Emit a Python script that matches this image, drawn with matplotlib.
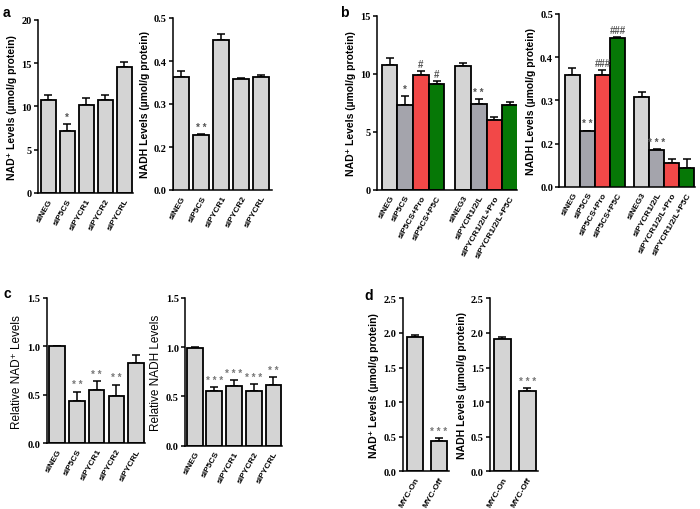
import matplotlib
matplotlib.use('Agg')
import matplotlib.pyplot as plt
import numpy as np

# ---- data ----
a_labels = ['siNEG', 'siP5CS', 'siPYCR1', 'siPYCR2', 'siPYCRL']
a_nad = [10.7, 7.2, 10.2, 10.7, 14.55]
a_nad_err = [0.57, 0.76, 0.76, 0.57, 0.6]
a_nad_sig = ['', '*', '', '', '']
a_nadh = [0.362, 0.228, 0.450, 0.358, 0.362]
a_nadh_err = [0.015, 0.002, 0.013, 0.003, 0.005]
a_nadh_sig = ['', '* *', '', '', '']

b_labels = ['siNEG', 'siP5CS', 'siP5CS+Pro', 'siP5CS+P5C',
            'siNEG3', 'siPYCR1/2/L', 'siPYCR1/2/L+Pro', 'siPYCR1/2/L+P5C']
b_nad = [10.72, 7.27, 9.86, 9.14, 10.63, 7.36, 6.03, 7.27]
b_nad_err = [0.63, 0.78, 0.34, 0.2, 0.32, 0.49, 0.23, 0.33]
b_nad_sig = ['', '*', '#', '#', '', '* *', '', '']
b_nadh = [0.359, 0.228, 0.358, 0.444, 0.308, 0.185, 0.154, 0.143]
b_nadh_err = [0.015, 0.002, 0.013, 0.002, 0.011, 0.002, 0.009, 0.02]
b_nadh_sig = ['', '* *', '###', '###', '', '* * *', '', '']

c_labels = ['siNEG', 'siP5CS', 'siPYCR1', 'siPYCR2', 'siPYCRL']
c_nad = [1.0, 0.44, 0.55, 0.487, 0.828]
c_nad_err = [0.007, 0.094, 0.09, 0.12, 0.079]
c_nad_sig = ['', '* *', '* *', '* *', '']
c_nadh = [0.997, 0.557, 0.611, 0.557, 0.618]
c_nadh_err = [0.008, 0.037, 0.058, 0.068, 0.082]
c_nadh_sig = ['', '* * *', '* * *', '* * *', '* *']

d_labels = ['MYC-On', 'MYC-Off']
d_nad = [1.937, 0.443]
d_nad_err = [0.039, 0.034]
d_nad_sig = ['', '* * *']
d_nadh = [1.913, 1.159]
d_nadh_err = [0.024, 0.048]
d_nadh_sig = ['', '* * *']

# NADH axes in a/b: bottom tick sits at 0.1 but is labelled 0.0
nadh_ticks = [0.1, 0.2, 0.3, 0.4, 0.5]
nadh_ticklabels = ['0.0', '0.2', '0.3', '0.4', '0.5']

GREY = '#d4d4d4'
DGREY = '#a4a4ac'
RED = '#f24848'
GREEN = '#067806'
b_colors = [GREY, DGREY, RED, GREEN, GREY, DGREY, RED, GREEN]

sans = ['Liberation Sans', 'DejaVu Sans']
serif = ['Liberation Serif', 'DejaVu Serif']

W, H = 700, 510
fig = plt.figure(figsize=(7, 5.1), dpi=100)


def px_axes(l, t, r, b):
    return fig.add_axes([l / W, 1 - b / H, (r - l) / W, (b - t) / H])


def panel(rect, pos, vals, errs, sigs, labels, colors, width, xlim, ylim,
          yticks, yticklabels, ylabel, yl_bold=True, yl_size=7.5, sig_col='#555555'):
    ax = px_axes(*rect)
    ax.bar(pos, vals, width=width, color=colors, edgecolor='black',
           linewidth=1.3, zorder=2)
    ax.errorbar(pos, vals, yerr=[np.zeros(len(vals)), errs], fmt='none',
                ecolor='black', elinewidth=1.1, capsize=3.2, capthick=1.1, zorder=1)
    for x, v, e, s in zip(pos, vals, errs, sigs):
        if s:
            ax.annotate(s, (x, v + e), xytext=(0, 1.5), textcoords='offset points',
                        ha='center', va='bottom', fontsize=7, color=sig_col,
                        family=sans, fontweight='bold')
    ax.set_xlim(*xlim)
    ax.set_ylim(*ylim)
    ax.set_yticks(yticks)
    ax.set_yticklabels(yticklabels, family=serif, fontweight='bold', fontsize=7.5)
    ax.set_xticks(pos)
    ax.set_xticklabels(labels, rotation=60, ha='right', rotation_mode='anchor',
                       family=sans, fontweight='bold', fontsize=6)
    ax.tick_params(axis='x', length=0, pad=3)
    ax.tick_params(axis='y', length=3, width=1.1, pad=1.5)
    for s in ['top', 'right']:
        ax.spines[s].set_visible(False)
    for s in ['left', 'bottom']:
        ax.spines[s].set_linewidth(1.1)
    ax.set_ylabel(ylabel, family=sans, fontweight='bold' if yl_bold else 'normal',
                  fontsize=yl_size, labelpad=3)
    return ax


five = np.arange(5)
two = np.arange(2)
b_pos1 = np.array([0, 1, 2, 3, 4.68, 5.68, 6.68, 7.68])
b_pos2 = np.array([0, 1, 2, 3, 4.62, 5.62, 6.62, 7.62])

nad_lab = 'NAD\u207a Levels (\u00b5mol/g protein)'
nadh_lab = 'NADH Levels (\u00b5mol/g protein)'

# panel a
panel((38, 20.7, 133, 194), five, a_nad, a_nad_err, a_nad_sig, a_labels, GREY,
      0.79, (-0.535, 4.465), (0, 20), [0, 5, 10, 15, 20],
      ['0', '5', '10', '15', '20'], nad_lab)
panel((173, 19, 271.7, 191), five, a_nadh, a_nadh_err, a_nadh_sig, a_labels, GREY,
      0.8, (-0.42, 4.51), (0.1, 0.5), nadh_ticks, nadh_ticklabels, nadh_lab)

# panel b
panel((376.7, 16.7, 517, 190.7), b_pos1, b_nad, b_nad_err, b_nad_sig, b_labels,
      b_colors, 1.0, (-0.82, 8.12), (0, 15), [0, 5, 10, 15],
      ['0', '5', '10', '15'], nad_lab)
panel((559.3, 15, 695, 187.7), b_pos2, b_nadh, b_nadh_err, b_nadh_sig, b_labels,
      b_colors, 1.0, (-0.88, 8.17), (0.1, 0.5), nadh_ticks, nadh_ticklabels, nadh_lab)

# panel c
panel((46.7, 299, 145, 444.3), five, c_nad, c_nad_err, c_nad_sig, c_labels, GREY,
      0.78, (-0.53, 4.46), (0, 1.5), [0, 0.5, 1.0, 1.5],
      ['0.0', '0.5', '1.0', '1.5'], 'Relative NAD\u207a Levels',
      yl_bold=False, yl_size=8.5, sig_col='#777777')
panel((185, 299, 282.3, 446.7), five, c_nadh, c_nadh_err, c_nadh_sig, c_labels, GREY,
      0.8, (-0.49, 4.45), (0, 1.5), [0, 0.5, 1.0, 1.5],
      ['0.0', '0.5', '1.0', '1.5'], 'Relative NADH Levels',
      yl_bold=False, yl_size=8.5, sig_col='#777777')

# panel d
d_ticks = [0, 0.5, 1.0, 1.5, 2.0, 2.5]
d_ticklabels = ['0.0', '0.5', '1.0', '1.5', '2.0', '2.5']
panel((402.7, 299.3, 449.3, 472.3), two, d_nad, d_nad_err, d_nad_sig, d_labels, GREY,
      0.67, (-0.5, 1.44), (0, 2.5), d_ticks, d_ticklabels, nad_lab, sig_col='#777777')
panel((490, 299.3, 538.3, 472.3), two, d_nadh, d_nadh_err, d_nadh_sig, d_labels, GREY,
      0.67, (-0.5, 1.44), (0, 2.5), d_ticks, d_ticklabels, nadh_lab, sig_col='#777777')

# panel letters
for letter, x, y in [('a', 3, 13), ('b', 340, 13), ('c', 3, 294), ('d', 364, 296)]:
    fig.text(x / W, 1 - y / H, letter, family=sans, fontweight='bold',
             fontsize=10, ha='left', va='center')

fig.savefig('out.png', dpi=100)
